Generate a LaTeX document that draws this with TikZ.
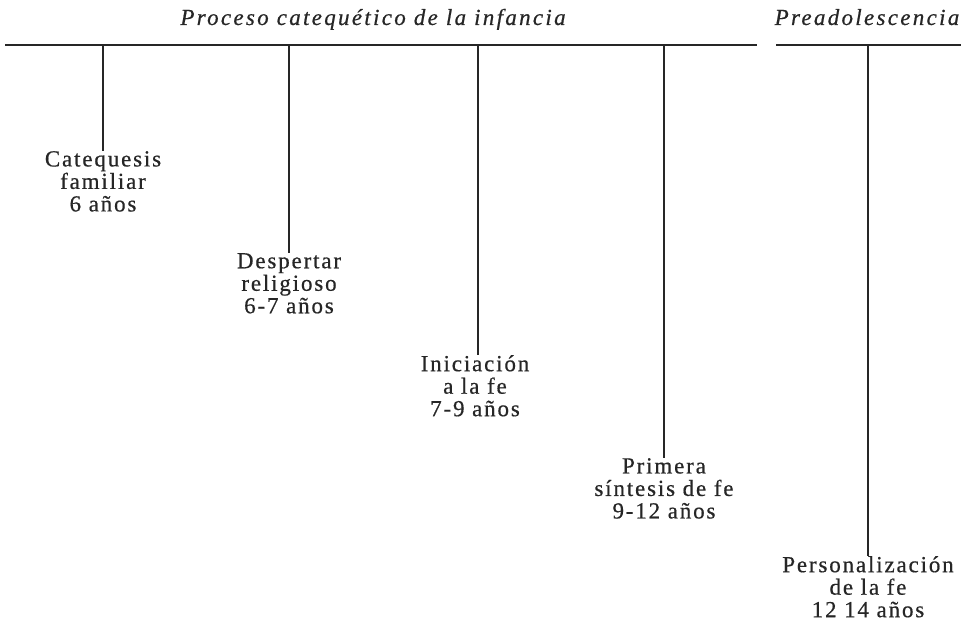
\documentclass[tikz,border=0pt]{standalone}
\usepackage{fontspec}
\setmainfont{Liberation Serif}[LetterSpace=8, FakeBold=0.6]
\newfontfamily\headfont{Liberation Serif}[LetterSpace=10, FakeBold=0.6]
\begin{document}
\begin{tikzpicture}[x=1pt,y=-1pt,
  bar/.style={line width=1.9pt, black!85},
  stage/.style={anchor=north, align=center, inner sep=0pt,
    font=\fontsize{23}{22.5}\selectfont, text=black!85},
  head/.style={anchor=base, inner sep=0pt,
    font=\headfont\fontsize{23}{24}\selectfont\itshape, text=black!85}]
\useasboundingbox (0,0) rectangle (961,623);
% header titles
\node[head] (t1) at (373,25) {Proceso catequético de la infancia};
\node[head] (t2) at (867,25) {Preadolescencia};
% top lines
\coordinate (l1s) at (5,45);
\coordinate (l1e) at (757,45);
\coordinate (l2s) at (776,45);
\coordinate (l2e) at (961,45);
\draw[bar] (l1s) -- (l1e);
\draw[bar] (l2s) -- (l2e);
% attachment points
\coordinate (pa) at (103,45);
\coordinate (pb) at (289,45);
\coordinate (pc) at (478,45);
\coordinate (pd) at (664,45);
\coordinate (pe) at (868,45);
% labels
\node[stage] (a) at (103,151) {Catequesis\\familiar\\6 años};
\node[stage] (b) at (289,253) {Despertar\\religioso\\6-7 años};
\node[stage] (c) at (475,355) {Iniciación\\a la fe\\7-9 años};
\node[stage] (d) at (664,458) {Primera\\síntesis de fe\\9-12 años};
\node[stage] (e) at (868,556) {Personalización\\de la fe\\12 14 años};
% verticals
\draw[bar] (pa) -- (pa |- a.north);
\draw[bar] (pb) -- (pb |- b.north);
\draw[bar] (pc) -- (pc |- c.north);
\draw[bar] (pd) -- (pd |- d.north);
\draw[bar] (pe) -- (pe |- e.north);
\end{tikzpicture}
\end{document}
